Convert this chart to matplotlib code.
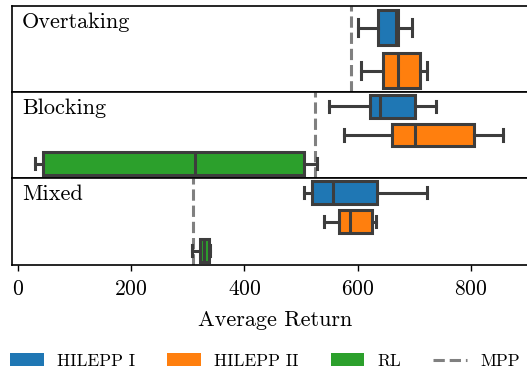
import numpy as np
import matplotlib
matplotlib.use("Agg")
import matplotlib.pyplot as plt
from matplotlib.patches import Patch
from matplotlib.lines import Line2D

plt.rcParams["font.family"] = "cmr10"
plt.rcParams["mathtext.fontset"] = "cm"
plt.rcParams["axes.formatter.use_mathtext"] = True

# ---------- data ----------
scenarios = ["Overtaking", "Blocking", "Mixed"]
methods = ["HILEPP I", "HILEPP II", "RL"]
colors = {"HILEPP I": "#1f77b4", "HILEPP II": "#ff7f0e", "RL": "#2ca02c"}

# per scenario: whisker low, q1, median, q3, whisker high (one entry per method present)
overtaking_methods = ["HILEPP I", "HILEPP II"]
overtaking_lo  = [600, 606]
overtaking_q1  = [636, 645]
overtaking_med = [667, 672]
overtaking_q3  = [672, 710]
overtaking_hi  = [696, 723]

blocking_methods = ["HILEPP I", "HILEPP II", "RL"]
blocking_lo  = [549, 576, 31]
blocking_q1  = [621, 660, 45]
blocking_med = [639, 701, 313]
blocking_q3  = [701, 806, 505]
blocking_hi  = [739, 857, 529]

mixed_methods = ["HILEPP I", "HILEPP II", "RL"]
mixed_lo  = [506, 541, 308]
mixed_q1  = [520, 568, 321]
mixed_med = [557, 586, 329]
mixed_q3  = [635, 626, 337]
mixed_hi  = [722, 632, 340]

mpp = [589, 524, 310]

panels = [
    (overtaking_methods, overtaking_lo, overtaking_q1, overtaking_med, overtaking_q3, overtaking_hi),
    (blocking_methods, blocking_lo, blocking_q1, blocking_med, blocking_q3, blocking_hi),
    (mixed_methods, mixed_lo, mixed_q1, mixed_med, mixed_q3, mixed_hi),
]

# ---------- figure ----------
W, H = 527, 371
fig = plt.figure(figsize=(W / 100, H / 100), dpi=100)

edge = "#3d3d3d"
mpp_color = "#808080"
dash = (3.7, 1.6)
tops = [6, 92, 178]
bottom_px = 265
left_px = 12
xmin, xmax = -10, 920
px_per_unit = 0.5666
width_px = (xmax - xmin) * px_per_unit

for i, (name, (meths, lo, q1, med, q3, hi)) in enumerate(zip(scenarios, panels)):
    top = tops[i]
    bot = tops[i + 1] if i < 2 else bottom_px
    ax = fig.add_axes([left_px / W, 1 - bot / H, width_px / W, (bot - top) / H])

    stats = []
    for j, m in enumerate(meths):
        stats.append(dict(label=m, whislo=lo[j], q1=q1[j], med=med[j],
                          q3=q3[j], whishi=hi[j], fliers=[]))
    bp = ax.bxp(stats, positions=np.arange(len(meths)), widths=0.8,
                orientation="horizontal", patch_artist=True, showfliers=False,
                boxprops=dict(edgecolor=edge, linewidth=2.2),
                medianprops=dict(color=edge, linewidth=2.2),
                whiskerprops=dict(color=edge, linewidth=2.2),
                capprops=dict(color=edge, linewidth=2.2), zorder=3)
    for patch, m in zip(bp["boxes"], meths):
        patch.set_facecolor(colors[m])

    ax.axvline(mpp[i], color=mpp_color, linestyle="--", linewidth=2.2,
               dashes=dash, zorder=1)

    ax.set_ylim(len(meths) - 0.5, -0.5)
    ax.set_xlim(xmin, xmax)
    ax.set_yticks([])
    for s in ax.spines.values():
        s.set_linewidth(1.2)
        s.set_color("black")
    ax.text(0.019, 0.93, name, transform=ax.transAxes, va="top", ha="left",
            fontsize=16)
    if i < 2:
        ax.set_xticks([])
    else:
        ax.set_xticks([0, 200, 400, 600, 800])
        ax.tick_params(axis="x", labelsize=15.5, length=4.5, width=1.0, pad=6)
        ax.set_xlabel("Average Return", fontsize=16, labelpad=8)

handles = [Patch(facecolor=colors[m], edgecolor="none") for m in methods]
handles.append(Line2D([0], [0], color=mpp_color, linestyle="--", linewidth=2.2,
                      dashes=dash))
labels = methods + ["MPP"]
fig.legend(handles, labels, loc="center left", bbox_to_anchor=(10 / W, 1 - 361 / H),
           ncol=4, frameon=False, fontsize=12.5, borderpad=0, borderaxespad=0,
           handlelength=1.95, handleheight=0.75, handletextpad=0.75, columnspacing=1.85)

fig.savefig("out.png", dpi=100)
